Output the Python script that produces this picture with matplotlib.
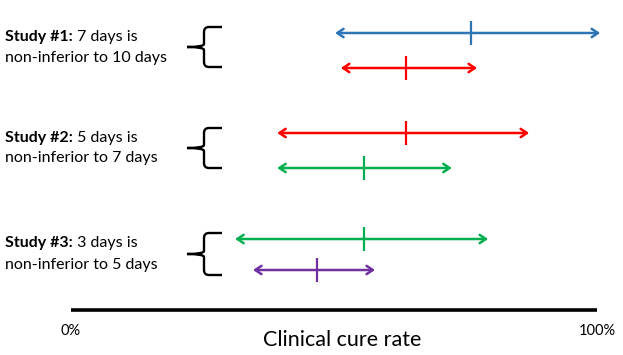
import matplotlib
matplotlib.use("Agg")
import matplotlib.pyplot as plt
from matplotlib.path import Path
from matplotlib.patches import PathPatch

plt.rcParams['font.family'] = ['Lato', 'DejaVu Sans']

# interval data (clinical cure rate, %)
lower = [50.2, 51.3, 39.2, 39.2, 31.2, 34.6]
upper = [100.6, 77.2, 87.1, 72.4, 79.3, 57.8]
point = [76.0, 63.7, 63.7, 55.7, 55.7, 46.8]
colors = ['#2E75B6', '#FF0000', '#FF0000', '#00B050', '#00B050', '#7030A0']
rows = [33, 68, 133, 168, 239, 270]  # vertical layout, px from top

study_bold = ['Study #1:', 'Study #2:', 'Study #3:']
study_rest1 = [' 7 days is', ' 5 days is', ' 3 days is']
study_line2 = ['non-inferior to 10 days', 'non-inferior to 7 days', 'non-inferior to 5 days']

W, H = 623, 355
x0, scale = 71, 5.26  # pixel of 0% and px per %


def px(xp):
    return (xp - x0) / scale


fig = plt.figure(figsize=(W / 100, H / 100), dpi=100)
ax = fig.add_axes([0, 0, 1, 1])
ax.set_xlim(px(0), px(W))
ax.set_ylim(H, 0)
ax.axis('off')

for lo, hi, p, c, y in zip(lower, upper, point, colors, rows):
    ax.annotate('', xy=(hi, y), xytext=(lo, y),
                arrowprops=dict(arrowstyle='<->,head_length=0.45,head_width=0.3',
                                color=c, lw=1.8, shrinkA=0, shrinkB=0))
    ax.plot([p, p], [y - 12, y + 12], color=c, lw=1.6, solid_capstyle='butt')

# axis line and labels
ax.plot([0, 100], [310, 310], color='black', lw=2.6, solid_capstyle='butt')
ax.text(0, 331, '0%', ha='center', va='center', fontsize=10.5)
ax.text(100, 331, '100%', ha='center', va='center', fontsize=10.5)
ax.text(px(342), 340, 'Clinical cure rate', ha='center', va='center', fontsize=15.5)

# study labels
text_y = [(37, 58), (138, 158), (243, 265)]
for b, r, l2, (y1, y2) in zip(study_bold, study_rest1, study_line2, text_y):
    t = ax.text(px(5), y1, b, ha='left', va='center', fontsize=11.5, fontweight='bold')
    ax.annotate(r, xy=(1, 0), xycoords=t, ha='left', va='bottom', fontsize=11.5)
    ax.text(px(5), y2, l2, ha='left', va='center', fontsize=11.5)

# curly braces
braces = [(27, 47, 67), (128, 148, 168), (233, 254, 275)]
for top, mid, bot in braces:
    xl, xv, xr = px(187), px(204), px(222)
    d = px(209) - xv
    verts = [(xr, top), (xv + d, top), (xv, top), (xv, top + 5),
             (xv, mid - 3), (xv, mid), (xl, mid),
             (xv, mid), (xv, mid + 3), (xv, bot - 5),
             (xv, bot), (xv + d, bot), (xr, bot)]
    codes = [Path.MOVETO, Path.LINETO, Path.CURVE3, Path.CURVE3,
             Path.LINETO, Path.CURVE3, Path.CURVE3,
             Path.CURVE3, Path.CURVE3, Path.LINETO,
             Path.CURVE3, Path.CURVE3, Path.LINETO]
    ax.add_patch(PathPatch(Path(verts, codes), fill=False, lw=1.7, ec='black'))

fig.savefig('out.png', dpi=100)
